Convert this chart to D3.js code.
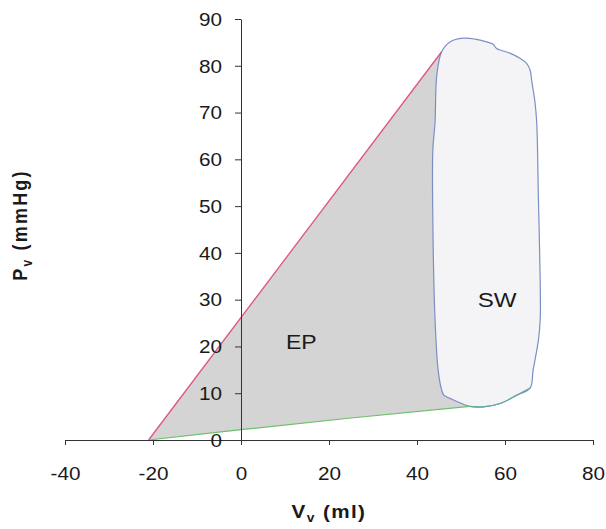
<!DOCTYPE html>
<html>
<head>
<meta charset="utf-8">
<script src="https://cdn.jsdelivr.net/npm/d3@7"></script>
<style>
  html, body { margin: 0; padding: 0; background: #ffffff; }
  svg { display: block; }
  text { font-family: "Liberation Sans", Arial, sans-serif; fill: #1a1a1a; }
</style>
</head>
<body>
<svg id="chart" width="606" height="529"></svg>
<script>
// ---- data (V in ml, P in mmHg) ----
const xTicks = [-40, -20, 0, 20, 40, 60, 80];
const yTicks = [0, 10, 20, 30, 40, 50, 60, 70, 80, 90];

// End-systolic pressure-volume relation (red line)
const espvr = [[-21, 0], [45.6, 83.0]];

// End-diastolic pressure-volume relation (green line)
const edpvr = [[-21, 0], [0, 2.2], [25, 4.7], [52, 7.2]];

// Filling phase along loop bottom (green)
const filling = [[52, 7.2], [55.1, 7.1], [58.9, 7.8], [62.7, 9.6], [65.7, 11.1]];

// Pressure-volume loop (starts at end-systolic corner, ejection backwards around)
const loopTop = [
  [45.6, 83.0], [47.5, 85.1], [50.5, 85.9], [53.2, 85.7], [55.8, 85.1],
  [57.3, 84.6], [58.1, 83.7], [61.1, 82.7], [63.4, 81.6], [64.9, 80.5],
  [65.7, 79.1], [66.1, 76.6], [66.8, 72.3], [67.2, 68.0], [67.6, 51.3],
  [68.0, 34.2], [68.0, 25.7], [67.6, 21.4], [66.4, 15.0], [65.7, 11.1],
  [62.7, 9.6], [58.9, 7.8], [55.1, 7.1], [52.0, 7.2]
];
const loopLeft = [
  [47.5, 8.9], [46.1, 9.6], [45.6, 10.7], [44.8, 15.0], [44.1, 25.7],
  [43.6, 47.0], [43.6, 62.0], [44.1, 68.0], [44.5, 78.0]
];
const loop = loopTop.concat(loopLeft);

const labels = [
  { text: "EP", v: 13.7, p: 19.5, size: 20 },
  { text: "SW", v: 58.2, p: 28.5, size: 21 }
];

// ---- drawing ----
const svg = d3.select("#chart");
const SX = 1.15; // horizontal stretch of the original glyphs

const x = d3.scaleLinear().domain([-40, 80]).range([65, 593]);
const y = d3.scaleLinear().domain([0, 90]).range([440, 19]);

const line = d3.line().x(d => x(d[0])).y(d => y(d[1]));

// EP region: ESPVR up to the loop corner, down the loop's left side, back along EDPVR
const epPoly = espvr.concat(loopLeft.slice().reverse(), [[47.5, 8.9]], edpvr.slice().reverse());
svg.append("path")
  .attr("d", d3.line().x(d => x(d[0])).y(d => y(d[1])).curve(d3.curveLinearClosed)(epPoly))
  .attr("fill", "#d3d4d3")
  .attr("stroke", "none");

// loop
svg.append("path")
  .attr("d", d3.line().x(d => x(d[0])).y(d => y(d[1])).curve(d3.curveCatmullRomClosed.alpha(0.5))(loop))
  .attr("fill", "#f4f4f6")
  .attr("stroke", "#7b8fc6")
  .attr("stroke-width", 1.2);

// lines
svg.append("path").attr("d", line(espvr))
  .attr("fill", "none").attr("stroke", "#e0528a").attr("stroke-width", 1.3);
svg.append("path").attr("d", line(edpvr))
  .attr("fill", "none").attr("stroke", "#6cbf6c").attr("stroke-width", 1.2);
svg.append("path").attr("d", d3.line().x(d => x(d[0])).y(d => y(d[1])).curve(d3.curveCatmullRom.alpha(0.5))(filling))
  .attr("fill", "none").attr("stroke", "#5fae9a").attr("stroke-width", 1.2);

// axes
const xAxis = d3.axisBottom(x).tickValues(xTicks).tickFormat(d => String(d))
  .tickSizeInner(5).tickSizeOuter(0);
const yAxis = d3.axisLeft(y).tickValues(yTicks).tickFormat(d => String(d))
  .tickSizeInner(6).tickSizeOuter(0);

const gx = svg.append("g").attr("transform", `translate(0,${y(0)})`).call(xAxis);
const gy = svg.append("g").attr("transform", `translate(${x(0)},0)`).call(yAxis);

[gx, gy].forEach(g => {
  g.select(".domain").attr("stroke", "#333").attr("stroke-width", 1);
  g.selectAll(".tick line").attr("stroke", "#333").attr("stroke-width", 1);
  g.selectAll(".tick text")
    .attr("font-family", "Liberation Sans, Arial, sans-serif")
    .attr("font-size", 18)
    .attr("fill", "#1a1a1a")
    .attr("transform", `scale(${SX},1)`);
});
gx.selectAll(".tick text").attr("y", 40).attr("dy", 0).attr("x", 0);
gy.selectAll(".tick text").attr("x", -19 / SX).attr("dy", "0.35em");

// region labels
labels.forEach(l => {
  svg.append("g")
    .attr("transform", `translate(${x(l.v)},${y(l.p)}) scale(${SX},1)`)
    .append("text")
    .attr("text-anchor", "middle")
    .attr("font-size", l.size)
    .text(l.text);
});

// axis titles
const xt = svg.append("g")
  .attr("transform", `translate(${(x(-40) + x(80)) / 2},518) scale(${SX},1)`)
  .append("text")
  .attr("text-anchor", "middle")
  .attr("font-size", 18)
  .attr("font-weight", "bold")
  .attr("letter-spacing", "1.2px");
xt.append("tspan").text("V");
xt.append("tspan").attr("font-size", 12).attr("dy", 4).text("v");
xt.append("tspan").attr("dy", -4).text(" (ml)");

const yt = svg.append("g")
  .attr("transform", `translate(27,225) scale(${SX},1) rotate(-90)`)
  .append("text")
  .attr("text-anchor", "middle")
  .attr("font-size", 18)
  .attr("font-weight", "bold")
  .attr("letter-spacing", "2.2px");
yt.append("tspan").text("P");
yt.append("tspan").attr("font-size", 12).attr("dy", 4).text("v");
yt.append("tspan").attr("dy", -4).text(" (mmHg)");
</script>
</body>
</html>
